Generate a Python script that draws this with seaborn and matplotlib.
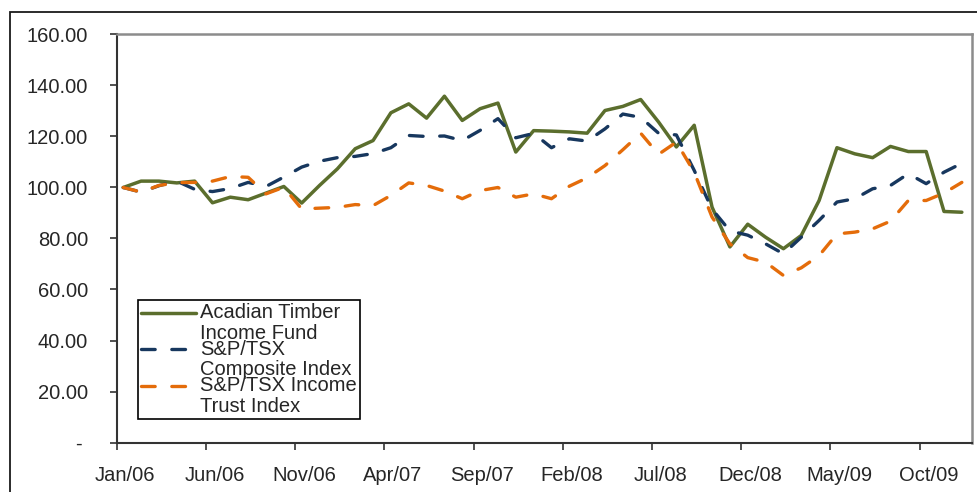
import matplotlib.pyplot as plt
import numpy as np
import pandas as pd
import seaborn as sns
from matplotlib.legend_handler import HandlerLine2D
from matplotlib.patches import Rectangle
from matplotlib.ticker import FixedLocator, FuncFormatter

# monthly index values, Jan/06 .. Dec/09 (base 100)
months = list(range(48))
tick_labels = ["Jan/06", "Jun/06", "Nov/06", "Apr/07", "Sep/07",
               "Feb/08", "Jul/08", "Dec/08", "May/09", "Oct/09"]

acadian = [100.0, 102.5, 102.5, 101.8, 102.5, 94.0, 96.2, 95.2, 97.8, 100.4,
           93.9, 100.8, 107.3, 115.2, 118.4, 129.3, 132.8, 127.2, 135.8, 126.3,
           130.9, 133.1, 113.9, 122.3, 122.1, 121.8, 121.3, 130.2, 131.8, 134.5,
           125.7, 115.9, 124.4, 92.3, 76.7, 85.6, 80.5, 76.0, 81.2, 94.9,
           115.6, 113.2, 111.7, 116.1, 114.1, 114.1, 90.6, 90.3]
composite = [100.0, 98.2, 100.7, 102.5, 99.3, 98.4, 99.6, 102.0, 100.4, 104.1,
             108.0, 110.3, 111.7, 112.2, 113.3, 115.6, 120.4, 120.0, 120.2, 118.4,
             122.4, 127.0, 119.5, 121.2, 115.6, 119.1, 118.2, 123.0, 128.8, 127.5,
             121.3, 120.6, 106.7, 91.5, 83.0, 81.3, 77.9, 74.0, 80.5, 87.1,
             94.3, 95.6, 99.5, 100.8, 105.4, 101.5, 106.0, 109.5]
income_trust = [100.0, 98.2, 100.8, 101.9, 102.0, 102.5, 104.3, 104.0, 97.5, 100.1,
                91.6, 91.9, 92.2, 93.3, 92.9, 96.9, 101.8, 100.8, 98.6, 95.6,
                98.8, 100.0, 96.2, 97.5, 95.6, 100.5, 103.8, 108.6, 114.8, 121.3,
                113.0, 117.8, 106.0, 88.4, 77.9, 72.5, 70.7, 65.5, 68.5, 73.3,
                81.8, 82.5, 83.8, 86.8, 94.9, 94.9, 97.8, 102.0]

series_names = ["Acadian Timber\nIncome Fund", "S&P/TSX\nComposite Index",
                "S&P/TSX Income\nTrust Index"]
series_values = [acadian, composite, income_trust]
colors = ["#5B6E2D", "#17375E", "#E46C0A"]


class FirstLineHandler(HandlerLine2D):
    # put the legend sample next to the first line of a two-line label
    def create_artists(self, legend, orig_handle, xdescent, ydescent,
                       width, height, fontsize, trans):
        artists = super().create_artists(legend, orig_handle, xdescent, ydescent,
                                          width, height, fontsize, trans)
        for artist in artists:
            artist.set_ydata(np.asarray(artist.get_ydata()) + 0.53 * fontsize)
        return artists


sns.set_style("white")
plt.rcParams["font.family"] = ["Liberation Sans", "DejaVu Sans"]

fig = plt.figure(figsize=(9.77, 4.92), dpi=100)
ax = fig.add_axes([0.1194, 0.1006, 0.8755, 0.8293])

for name, values, color in zip(series_names, series_values, colors):
    df = pd.DataFrame({"month": months, "value": values})
    style = {"linewidth": 2.5} if name.startswith("Acadian") else {
        "linewidth": 2.4, "linestyle": (0, (4.1, 5.0)), "dash_capstyle": "round"}
    sns.lineplot(data=df, x="month", y="value", ax=ax, color=color,
                 label=name, legend=False, **style)

ax.set_xlim(-0.37, 47.57)
ax.set_ylim(0, 160)
ax.set(xlabel="", ylabel="")

ax.set_yticks(range(0, 161, 20))
ax.yaxis.set_major_formatter(FuncFormatter(lambda v, _: "- " if v == 0 else f"{v:.2f}"))
ax.tick_params(axis="y", length=5, width=1.2, pad=15.5, labelsize=14.5,
               direction="out", color="#333333", left=True)

ax.xaxis.set_major_locator(FixedLocator([i + 0.12 for i in range(0, 48, 5)]))
ax.xaxis.set_minor_locator(FixedLocator([i - 0.37 for i in range(0, 48, 5)]))
ax.set_xticklabels(tick_labels)
ax.tick_params(axis="x", which="major", length=0, pad=17.0, labelsize=14.5)
ax.tick_params(axis="x", which="minor", length=5, width=1.2, direction="out",
               color="#333333", bottom=True)

for side in ["left", "bottom"]:
    ax.spines[side].set_color("#333333")
    ax.spines[side].set_linewidth(1.5)
for side in ["top", "right"]:
    ax.spines[side].set_color("#8C8C8C")
    ax.spines[side].set_linewidth(1.8)

handles, labels = ax.get_legend_handles_labels()
leg = ax.legend(handles, labels, loc="upper left", bbox_to_anchor=(0.0249, 0.349),
                borderaxespad=0, fontsize=14.5, frameon=True, fancybox=False,
                framealpha=1, edgecolor="black", handlelength=2.75,
                handletextpad=0.2, borderpad=0.15, labelspacing=-0.17,
                handler_map={h: FirstLineHandler() for h in handles})
for text in leg.get_texts():
    text.set_linespacing(1.12)
leg.get_frame().set_linewidth(1.2)

# outer chart-area border (runs off the right and bottom edges)
fig.add_artist(Rectangle((10 / 977, -0.1), 1.2, 1.1 - 11.5 / 492,
                         transform=fig.transFigure, fill=False,
                         edgecolor="#1A1A1A", linewidth=1.3))

fig.savefig("out.png", dpi=100)
